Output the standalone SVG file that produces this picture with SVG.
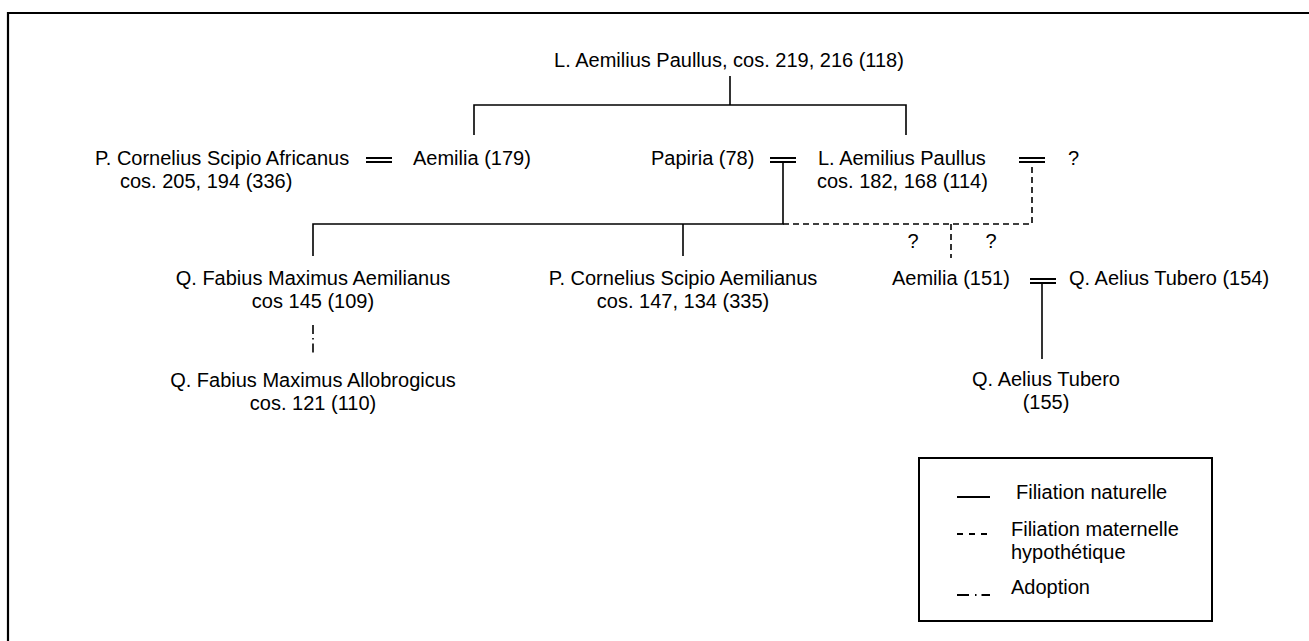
<svg xmlns="http://www.w3.org/2000/svg" width="1309" height="641" viewBox="0 0 1309 641">
<style>
text{font-family:"Liberation Sans",Arial,sans-serif;font-size:20px;fill:#000}
.m{text-anchor:middle}
line,polyline{stroke:#000;stroke-width:1.6;fill:none}
.eq{stroke-width:2}
.d{stroke-dasharray:6 4}
.a{stroke-dasharray:9 4 1.5 4}
</style>
<rect width="1309" height="641" fill="#fff"/>
<polyline points="8,641 8,13 1309,13" style="stroke-width:2.2"/>
<g id="connectors">
<line x1="730" y1="76" x2="730" y2="105"/>
<polyline points="474,135 474,105 906,105 906,135"/>
<line class="eq" x1="366" y1="158" x2="392" y2="158"/>
<line class="eq" x1="366" y1="162" x2="392" y2="162"/>
<line class="eq" x1="770" y1="158" x2="796" y2="158"/>
<line class="eq" x1="770" y1="162" x2="796" y2="162"/>
<line class="eq" x1="1019" y1="158" x2="1045" y2="158"/>
<line class="eq" x1="1019" y1="162" x2="1045" y2="162"/>
<line class="eq" x1="1030" y1="279" x2="1056" y2="279"/>
<line class="eq" x1="1030" y1="283" x2="1056" y2="283"/>
<polyline points="313,256 313,224 783,224 783,162"/>
<line x1="683" y1="224" x2="683" y2="256"/>
<polyline class="d" points="783,224 1032,224 1032,162"/>
<line class="d" x1="951" y1="224" x2="951" y2="258"/>
<line class="a" x1="313" y1="325" x2="313" y2="355"/>
<line x1="1042" y1="283" x2="1042" y2="359"/>
</g>
<g id="n-paullus-118"><text class="m" x="729" y="67">L. Aemilius Paullus, cos. 219, 216 (118)</text></g>
<g id="n-africanus"><text x="95" y="165">P. Cornelius Scipio Africanus</text><text x="120" y="188">cos. 205, 194 (336)</text></g>
<g id="n-aemilia-179"><text x="413" y="165">Aemilia (179)</text></g>
<g id="n-papiria"><text x="651" y="165">Papiria (78)</text></g>
<g id="n-paullus-114"><text x="818" y="165">L. Aemilius Paullus</text><text x="817" y="188">cos. 182, 168 (114)</text></g>
<g id="n-unknown"><text x="1068" y="165">?</text></g>
<g id="q-labels"><text class="m" x="913" y="248">?</text><text class="m" x="991" y="248">?</text></g>
<g id="n-fabius-aem"><text class="m" x="313" y="285">Q. Fabius Maximus Aemilianus</text><text class="m" x="313" y="308">cos 145 (109)</text></g>
<g id="n-scipio-aem"><text class="m" x="683" y="285">P. Cornelius Scipio Aemilianus</text><text class="m" x="683" y="308">cos. 147, 134 (335)</text></g>
<g id="n-aemilia-151"><text x="892" y="285">Aemilia (151)</text></g>
<g id="n-tubero-154"><text x="1069" y="285">Q. Aelius Tubero (154)</text></g>
<g id="n-allobrogicus"><text class="m" x="313" y="387">Q. Fabius Maximus Allobrogicus</text><text class="m" x="313" y="410">cos. 121 (110)</text></g>
<g id="n-tubero-155"><text class="m" x="1046" y="386">Q. Aelius Tubero</text><text class="m" x="1046" y="409">(155)</text></g>
<g id="legend">
<rect x="919" y="458" width="293" height="163" fill="none" stroke="#000" stroke-width="2"/>
<line x1="957" y1="497" x2="990" y2="497" style="stroke-width:2"/>
<text x="1016" y="499">Filiation naturelle</text>
<line x1="957" y1="534" x2="989" y2="534" style="stroke-dasharray:6 6;stroke-width:2"/>
<text x="1011" y="536">Filiation maternelle</text>
<text x="1011" y="559">hypothétique</text>
<line x1="957" y1="595" x2="990" y2="595" style="stroke-dasharray:12 6 1.5 5 12;stroke-width:2"/>
<text x="1011" y="594">Adoption</text>
</g>
</svg>
